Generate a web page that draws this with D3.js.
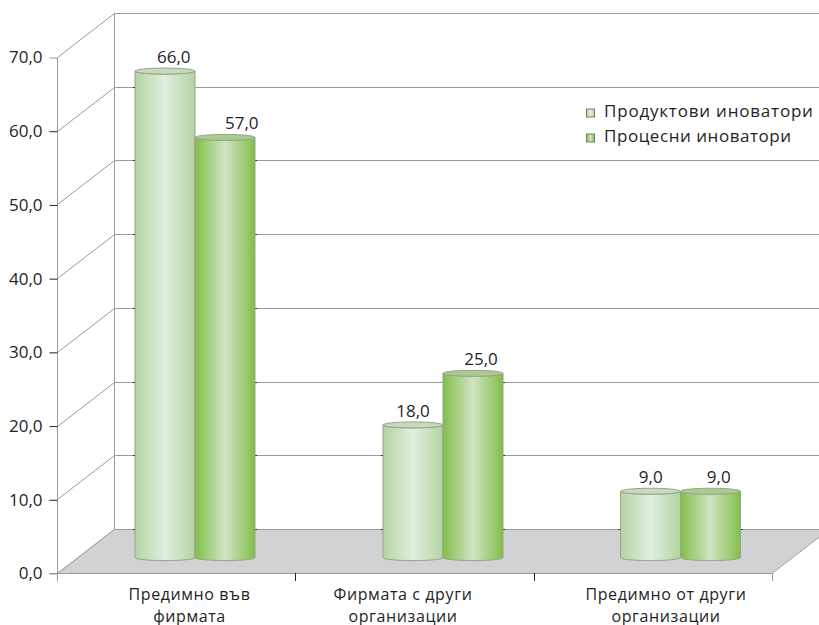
<!DOCTYPE html>
<html lang="bg"><head><meta charset="utf-8"><script src="https://cdn.jsdelivr.net/npm/d3@7"></script>
<style>
html,body{margin:0;background:#fff}
svg{display:block}
text{font-family:"Open Sans",sans-serif;fill:#242426}
</style></head><body><script>
// Source figures, in percent
const categories=[["Предимно във","фирмата"],["Фирмата с други","организации"],["Предимно от други","организации"]];
const seriesNames=["Продуктови иноватори","Процесни иноватори"];
const productInnovators=[66,18,9];
const processInnovators=[57,25,9];
const seriesValues=[productInnovators,processInnovators];
const yTicks=[0,10,20,30,40,50,60,70];

const W=819,H=625;
const fmt=v=>v.toFixed(1).replace(".",",");
const line="#9a9a9a", dark="#222";

// Oblique projection: front plane plus a fixed shift toward the back wall
const y=d3.scaleLinear().domain([0,70]).range([573,57]);
const frontX=[57,772], depthX=57, depthY=-44;
const xAxisScale=d3.scaleLinear().domain([0,3]).range(frontX);
const ids=categories.map((_,i)=>i);
const groupX=d3.scaleOrdinal().domain(ids).range([195,443,680.5]);
const valueLabelX=d3.scaleOrdinal().domain(ids).range([207.75,447,684.75]);
const labelX=d3.scaleOrdinal().domain(ids).range([189.5,403,666]);
const barDepth=0.35;           // cylinders stand this far into the floor
const barW=60, ry=3;

const svg=d3.select("body").append("svg").attr("width",W).attr("height",H);
const defs=svg.append("defs");
const palettes=[["#b3d3a0","#e2efe0"],["#82bf48","#d1e3c4"]];
palettes.forEach((p,i)=>{
  const g=defs.append("linearGradient").attr("id","cyl"+i);
  [[0,p[0]],[.5,p[1]],[1,p[0]]].forEach(s=>g.append("stop").attr("offset",s[0]).attr("stop-color",s[1]));
});

// Floor
const gridG=svg.append("g").attr("fill","none").attr("stroke",line).attr("stroke-width",1);
svg.insert("polygon","g")
  .attr("points",[[frontX[0],y(0)],[frontX[0]+depthX,y(0)+depthY],[frontX[1]+depthX,y(0)+depthY],[frontX[1],y(0)]].join(" "))
  .attr("fill","#d1d2d4");

// Back wall gridlines and their diagonals on the side wall
const backY=t=>Math.round(y(t)+depthY)+.5;
yTicks.forEach(t=>{
  const yy=Math.round(y(t))+.5, by=backY(t);
  gridG.append("line").attr("x1",frontX[0]+.5).attr("x2",frontX[0]+depthX+.5).attr("y1",yy).attr("y2",by);
  gridG.append("line").attr("x1",frontX[0]+depthX).attr("x2",W).attr("y1",by).attr("y2",by);
});
gridG.append("line").attr("x1",frontX[0]+depthX+.5).attr("x2",frontX[0]+depthX+.5)
  .attr("y1",backY(70)).attr("y2",backY(0));
gridG.append("line").attr("x1",frontX[1]).attr("x2",frontX[1]+depthX).attr("y1",y(0)+.5).attr("y2",y(0)+depthY+.5);

// Value axis on the front plane
const yAxis=d3.axisLeft(y).tickValues(yTicks).tickFormat(fmt).tickSize(8).tickPadding(7);
const ya=svg.append("g").attr("transform",`translate(${frontX[0]+.5},0.5)`).call(yAxis);
ya.select(".domain").attr("stroke",line).attr("d",`M0,${y(70)}V${y(0)+8}`);
ya.selectAll(".tick line").attr("stroke",d=>(d===70||d===0)?line:dark);
ya.selectAll("text").attr("font-size",17).attr("font-family",null).attr("x",-15);

// Category axis along the front edge of the floor
svg.append("line").attr("x1",frontX[0]-8).attr("x2",frontX[1]).attr("y1",y(0)+.5).attr("y2",y(0)+.5).attr("stroke",line);
[0,1,2,3].forEach(i=>{
  const x=Math.round(xAxisScale(i))+.5;
  svg.append("line").attr("x1",x).attr("x2",x).attr("y1",y(0)).attr("y2",y(0)+8)
    .attr("stroke",(i===1||i===2)?dark:line);
});

// Cylinders
const barBase=y(0)+depthY*barDepth;
const barTop=v=>barBase-(y(0)-y(v));
const cyl=(g,cx,top,base,s)=>{
  const l=cx-barW/2,r=cx+barW/2,rx=barW/2;
  g.append("path")
    .attr("d",`M${l},${top}V${base}A${rx},${ry} 0 0 0 ${r},${base}V${top}A${rx},${ry} 0 0 1 ${l},${top}Z`)
    .attr("fill",`url(#cyl${s})`).attr("stroke","#98a291").attr("stroke-width",1);
  g.append("ellipse").attr("cx",cx).attr("cy",top).attr("rx",rx).attr("ry",ry)
    .attr("fill",s?"#a9cc8a":"#c6dcb8").attr("stroke","#9aa296").attr("stroke-width",1);
};
ids.forEach(i=>{
  // Dark nicks where the gridlines meet the outer sides of each cylinder pair
  const maxV=seriesValues.map(v=>v[i]);
  yTicks.forEach(t=>{
    [[0,-barW-2,-barW],[1,barW,barW+2]].forEach(([s,a,b])=>{
      if(t<=maxV[s]) svg.append("line").attr("x1",groupX(i)+a).attr("x2",groupX(i)+b)
        .attr("y1",backY(t)).attr("y2",backY(t)).attr("stroke",dark);
    });
  });
  seriesValues.forEach((vals,s)=>{
    const cx=groupX(i)+(s?barW/2:-barW/2), v=vals[i];
    const g=svg.append("g");
    cyl(g,cx,barTop(v),barBase,s);
    g.append("text").attr("x",valueLabelX(i)+(s?34:-34)).attr("y",barTop(v)-8).attr("text-anchor","middle")
      .attr("font-size",17).text(fmt(v));
  });
  const t=svg.append("text").attr("text-anchor","middle").attr("font-size",16).attr("letter-spacing",.6);
  categories[i].forEach((ln,k)=>t.append("tspan").attr("x",labelX(i)).attr("y",600+k*21.5).text(ln));
});

// Legend
seriesNames.forEach((name,s)=>{
  const ly=109+s*25;
  svg.append("rect").attr("x",586.5).attr("y",ly).attr("width",8).attr("height",8)
    .attr("fill",`url(#cyl${s})`).attr("stroke","#6f8060");
  svg.append("text").attr("x",604).attr("y",ly+8).attr("font-size",17).attr("letter-spacing",.8-s*.25).text(name);
});
</script></body></html>
